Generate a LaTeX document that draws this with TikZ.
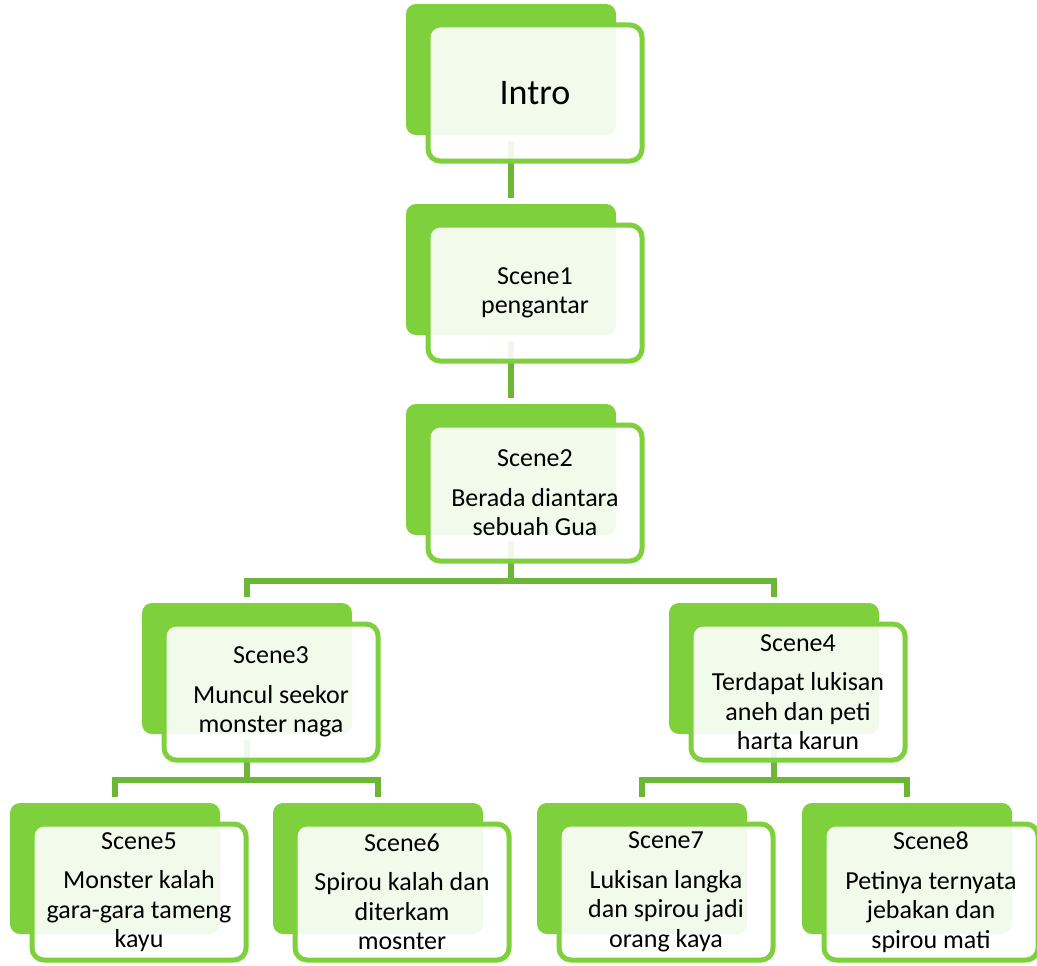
\documentclass[tikz,border=0pt]{standalone}
\usepackage{fontspec}
\setmainfont{Carlito}
\definecolor{gback}{RGB}{126,208,60}
\definecolor{gline}{RGB}{110,182,56}
\tikzset{
  backbox/.style={fill=gback, draw=none, rounded corners=10pt, minimum width=210pt, minimum height=131pt, inner sep=0pt, outer sep=0pt},
  frontbox/.style={draw=gback, line width=5pt, fill=white, fill opacity=0.9, text opacity=1, text=black,
    rounded corners=12pt, minimum width=214pt, minimum height=136pt, inner sep=0pt, outer sep=0pt,
    align=center, font=\fontsize{26}{29.5}\selectfont},
  introfont/.style={font=\fontsize{36}{40}\selectfont},
  conn/.style={draw=gline, line width=5.5pt},
  connfull/.style={conn, shorten <=6pt, shorten >=6pt}
}
\newcommand\backnode[3]{\node[backbox] (#1b) at ({#2+105},{#3+65.5}) {};}
\newcommand\frontnode[4]{\node[frontbox,#4] (#1) at ({#2+129},{#3+89}) {#3};}
\begin{document}
\begin{tikzpicture}[x=1pt,y=-1pt]
\useasboundingbox (0,0) rectangle (1037,966);
% back boxes
\backnode{intro}{406}{4}
\backnode{sa}{406}{204}
\backnode{sb}{406}{404}
\backnode{sc}{142}{603}
\backnode{sd}{669}{603}
\backnode{se}{10}{803}
\backnode{sf}{273}{803}
\backnode{sg}{537}{803}
\backnode{sh}{802}{803}
% bus points
\coordinate (busb) at (511,581);
\coordinate (busc) at (247,780);
\coordinate (busd) at (774,780);
% connectors
\draw[connfull] (introb.south) -- (sab.north);
\draw[connfull] (sab.south) -- (sbb.north);
\draw[conn, shorten <=6pt] (sbb.south) -- (busb);
\draw[conn, shorten >=6pt] (busb) -| (scb.north);
\draw[conn, shorten >=6pt] (busb) -| (sdb.north);
\draw[conn, shorten <=6pt] (scb.south) -- (busc);
\draw[conn, shorten >=6pt] (busc) -| (seb.north);
\draw[conn, shorten >=6pt] (busc) -| (sfb.north);
\draw[conn, shorten <=6pt] (sdb.south) -- (busd);
\draw[conn, shorten >=6pt] (busd) -| (sgb.north);
\draw[conn, shorten >=6pt] (busd) -| (shb.north);
% front boxes
\node[frontbox,introfont] (intro) at (535,93) {Intro};
\node[frontbox] (sa) at (535,293) {Scene1\\pengantar};
\node[frontbox] (sb) at (535,493) {Scene2\\[10pt]Berada diantara\\sebuah Gua};
\node[frontbox] (sc) at (271,692) {Scene3\\[10pt]Muncul seekor\\monster naga};
\node[frontbox] (sd) at (798,692) {Scene4\\[10pt]Terdapat lukisan\\aneh dan peti\\harta karun};
\node[frontbox] (se) at (139,892) {Scene5\\[10pt]Monster kalah\\gara-gara tameng\\kayu};
\node[frontbox] (sf) at (402,892) {Scene6\\[10pt]Spirou kalah dan\\diterkam\\mosnter};
\node[frontbox] (sg) at (666,892) {Scene7\\[10pt]Lukisan langka\\dan spirou jadi\\orang kaya};
\node[frontbox] (sh) at (931,892) {Scene8\\[10pt]Petinya ternyata\\jebakan dan\\spirou mati};
\end{tikzpicture}
\end{document}
